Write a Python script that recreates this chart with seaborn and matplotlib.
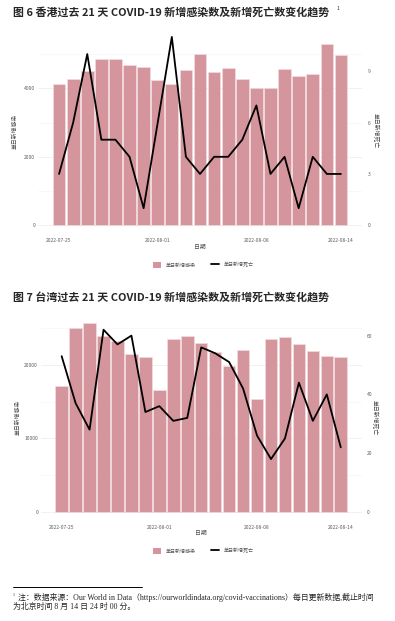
"""香港/台湾过去 21 天新增感染与新增死亡 双轴图"""

import matplotlib

matplotlib.use("Agg")
import matplotlib.pyplot as plt
import numpy as np
import seaborn as sns
from matplotlib.lines import Line2D
from matplotlib.patches import Patch
from matplotlib.ticker import MultipleLocator

dates = [
    "2022-07-25", "2022-07-26", "2022-07-27", "2022-07-28", "2022-07-29",
    "2022-07-30", "2022-07-31", "2022-08-01", "2022-08-02", "2022-08-03",
    "2022-08-04", "2022-08-05", "2022-08-06", "2022-08-07", "2022-08-08",
    "2022-08-09", "2022-08-10", "2022-08-11", "2022-08-12", "2022-08-13",
    "2022-08-14",
]
tick_dates = ["2022-07-25", "2022-08-01", "2022-08-08", "2022-08-14"]

hk_cases = [4130, 4260, 4500, 4870, 4870, 4680, 4620, 4240, 4120, 4540, 4990,
            4470, 4580, 4260, 4020, 4020, 4570, 4360, 4430, 5290, 4970]
hk_deaths = [3, 6, 10, 5, 5, 4, 1, 6, 11, 4, 3, 4, 4, 5, 7, 3, 4, 1, 4, 3, 3]

tw_cases = [17140, 25030, 25670, 23990, 23270, 21500, 21040, 16600, 23540, 23900,
            22950, 21810, 19860, 22040, 15370, 23580, 23760, 22900, 21950, 21270,
            21040]
tw_deaths = [53, 37, 28, 62, 57, 60, 34, 36, 31, 32, 56, 54, 51, 42, 26, 18, 25,
             44, 31, 40, 22]

BAR_COLOR = "#D4959D"
GRID = "#EBEBEB"
TICK = "#5E5E5E"
LABEL = "#4A4A4A"

sns.set_style("white")
plt.rcParams["font.family"] = ["Noto Sans CJK SC", "DejaVu Sans"]

fig = plt.figure(figsize=(3.95, 6.21), dpi=100)


def dual_chart(rect, cases, deaths, coef, ylim, left_step, right_step):
    ax = fig.add_axes(rect)
    sns.barplot(x=dates, y=cases, color=BAR_COLOR, saturation=1, width=0.9,
                edgecolor="#F2E2E4", linewidth=0.4, ax=ax)
    ax2 = ax.twinx()
    sns.lineplot(x=np.arange(len(deaths)), y=deaths, color="black",
                 linewidth=1.3, ax=ax2)

    ax.set_xlim(-1.495, len(dates) - 1 + 1.495)
    ax.set_ylim(*ylim)
    ax2.set_ylim(ylim[0] / coef, ylim[1] / coef)

    ax.yaxis.set_major_locator(MultipleLocator(left_step))
    ax.yaxis.set_minor_locator(MultipleLocator(left_step / 2))
    ax2.yaxis.set_major_locator(MultipleLocator(right_step))
    ax.grid(axis="y", which="major", color=GRID, linewidth=0.5)
    ax.grid(axis="y", which="minor", color="#F4F4F4", linewidth=0.4)
    ax.set_axisbelow(True)

    ax.set_xticks([dates.index(d) for d in tick_dates])
    ax.set_xticklabels(tick_dates)
    for a in (ax, ax2):
        for s in a.spines.values():
            s.set_visible(False)
        a.tick_params(which="both", length=0, labelsize=3.6, labelcolor=TICK)
    ax.tick_params(axis="y", pad=2)
    ax.tick_params(axis="x", pad=2.5)
    ax2.tick_params(axis="y", pad=4)

    ax.set_xlabel("日期", fontsize=4.2, color=LABEL, labelpad=1)
    ax.set_ylabel("单日新增感染", fontsize=4.2, color=LABEL)
    ax.yaxis.set_label_coords(-0.062, 0.5)
    ax2.set_ylabel("单日新增死亡", fontsize=4.2, color=LABEL, rotation=270)
    ax2.yaxis.set_label_coords(1.052, 0.5)
    return ax, ax2


def legend_at(y):
    handles = [Patch(facecolor=BAR_COLOR, edgecolor="none"),
               Line2D([0], [0], color="black", linewidth=1.3)]
    fig.legend(handles, ["单日新增感染", "单日新增死亡"], loc="center",
               bbox_to_anchor=(0.515, y), ncol=2, frameon=False, fontsize=3.6,
               labelcolor="#555555", handlelength=1.6, handleheight=1.6,
               columnspacing=3.2, handletextpad=0.9)


# 图 6 香港
dual_chart([0.0962, 0.622, 0.8203, 0.3337], hk_cases, hk_deaths, 500,
           (-275, 5775), 2000, 3)
fig.text(0.033, 1 - 12 / 621, "图 6 香港过去 21 天 COVID-19 新增感染数及新增死亡数变化趋势",
         fontsize=7.9, fontweight="bold", va="center", ha="left")
fig.text(0.852, 1 - 8 / 621, "1", fontsize=3.5, va="center", ha="left")
legend_at(1 - 265 / 621)

# 图 7 台湾
dual_chart([0.1033, 0.1604, 0.8122, 0.3341], tw_cases, tw_deaths, 400,
           (-1283, 26952), 10000, 20)
fig.text(0.033, 1 - 297 / 621, "图 7 台湾过去 21 天 COVID-19 新增感染数及新增死亡数变化趋势",
         fontsize=7.9, fontweight="bold", va="center", ha="left")
legend_at(1 - 551 / 621)

# 脚注
fig.add_artist(Line2D([13 / 395, 142 / 395], [1 - 587 / 621, 1 - 587 / 621],
                      color="black", linewidth=0.7))
foot_font = ["Liberation Serif", "Noto Sans CJK SC"]
fig.text(0.033, 1 - 595 / 621, "1", fontsize=3.0, family=foot_font, va="center")
fig.text(0.045, 1 - 598 / 621,
         "注：数据来源：Our World in Data（https://ourworldindata.org/covid-vaccinations）每日更新数据,截止时间",
         fontsize=5.7, family=foot_font, va="center")
fig.text(0.033, 1 - 607 / 621, "为北京时间 8 月 14 日 24 时 00 分。",
         fontsize=5.7, family=foot_font, va="center")

fig.savefig("out.png", dpi=100, facecolor="white")
